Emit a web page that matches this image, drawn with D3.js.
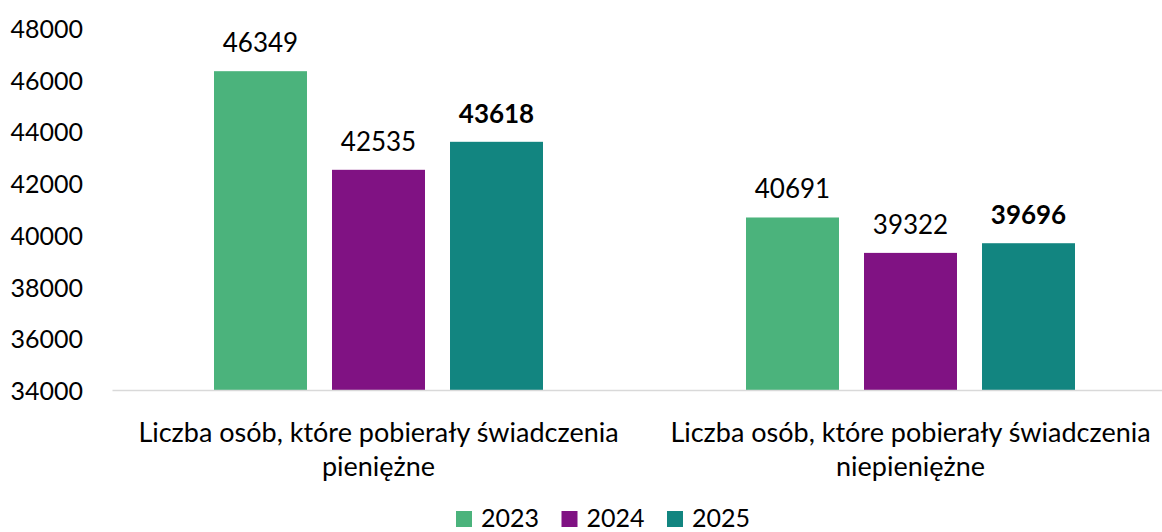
<!DOCTYPE html>
<html>
<head>
<meta charset="utf-8">
<script src="https://cdnjs.cloudflare.com/ajax/libs/d3/7.8.5/d3.min.js"></script>
<style>
  body { margin: 0; background: #fff; }
  svg text { font-family: Lato, "Open Sans", sans-serif; fill: #000; }
  .domain-line { stroke: #d9d9d9; stroke-width: 1.5; }
</style>
</head>
<body>
<svg id="chart" width="1162" height="532"></svg>
<script>
// data
var categories = [
  ["Liczba osób, które pobierały świadczenia", "pieniężne"],
  ["Liczba osób, które pobierały świadczenia", "niepieniężne"]
];
var years = ["2023", "2024", "2025"];
var values2023 = [46349, 40691];
var values2024 = [42535, 39322];
var values2025 = [43618, 39696];
var yTicks = [34000, 36000, 38000, 40000, 42000, 44000, 46000, 48000];
var colors = ["#4bb37c", "#801283", "#128580"];

(function() {
  var series = [values2023, values2024, values2025];
  var svg = d3.select('#chart');
  var fontSize = 25;

  //// SCALES ////
  var x = d3.scaleBand().domain(d3.range(categories.length)).range([112.5, 1176.5]);
  var xInner = d3.scaleBand().domain(years).range([101.5, 430.5]).paddingInner(0.212);
  var y = d3.scaleLinear().domain([34000, 48000]).range([390.5, 28.5]);

  // y axis labels (no line, no ticks)
  var yAxis = d3.axisLeft(y).tickValues(yTicks).tickSize(0).tickPadding(0).tickFormat(d3.format('d'));
  var gy = svg.append('g').attr('transform', 'translate(83,0)').call(yAxis);
  gy.select('.domain').remove();
  gy.selectAll('text')
    .attr('font-size', fontSize)
    .attr('font-family', null)
    .attr('dy', '0.36em');

  // bars
  var groups = svg.selectAll('g.cat').data(categories)
    .enter().append('g')
      .attr('class', 'cat')
      .attr('transform', function(d, i) { return 'translate(' + x(i) + ',0)'; });

  groups.each(function(d, i) {
    var g = d3.select(this);
    years.forEach(function(yr, s) {
      var v = series[s][i];
      g.append('rect')
        .attr('x', xInner(yr))
        .attr('y', y(v))
        .attr('width', xInner.bandwidth())
        .attr('height', y(34000) - y(v))
        .attr('fill', colors[s]);
      g.append('text')
        .attr('x', xInner(yr) + xInner.bandwidth() / 2)
        .attr('y', y(v) - 19)
        .attr('text-anchor', 'middle')
        .attr('font-size', 26)
        .attr('font-weight', s === 2 ? 'bold' : 'normal')
        .text(v);
    });

    // category label, two lines
    var t = g.append('text')
      .attr('text-anchor', 'middle')
      .attr('font-size', 27);
    d.forEach(function(line, k) {
      t.append('tspan')
        .attr('x', x.bandwidth() / 2)
        .attr('y', 442 + k * 34)
        .text(line);
    });
  });

  // baseline
  svg.append('line')
    .attr('class', 'domain-line')
    .attr('x1', 112.5).attr('x2', 1176.5)
    .attr('y1', y(34000)).attr('y2', y(34000));

  // legend
  var legend = svg.append('g').attr('transform', 'translate(456,511)');
  years.forEach(function(yr, s) {
    var item = legend.append('g').attr('transform', 'translate(' + (s * 105.5) + ',0)');
    item.append('rect').attr('width', 16).attr('height', 16).attr('fill', colors[s]);
    item.append('text')
      .attr('x', 25).attr('y', 16)
      .attr('font-size', fontSize)
      .text(yr);
  });
})();
</script>
</body>
</html>
